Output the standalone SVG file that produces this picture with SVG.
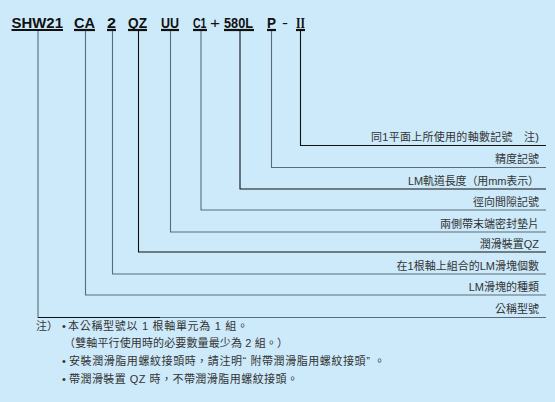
<svg xmlns="http://www.w3.org/2000/svg" width="555" height="402" viewBox="0 0 555 402">
<style>
.code{font-family:"Liberation Sans",Arial,sans-serif;font-weight:bold;font-size:15px;fill:#111}
.ul{stroke:#111;stroke-width:2.2}
.lbl{font-family:"Liberation Sans","Noto Sans CJK TC",sans-serif;font-size:11px;fill:#333;text-anchor:end}
.note{font-family:"Liberation Sans","Noto Sans CJK TC",sans-serif;font-size:11px;fill:#333}
.k{fill:none;stroke:#111;stroke-width:1.1}
.g{fill:none;stroke:#5b6b77;stroke-width:1.1}
</style>
<rect width="555" height="402" fill="#cdeafa"/>
<g id="code">
<text class="code" x="11.5" y="28" textLength="51.5" lengthAdjust="spacingAndGlyphs">SHW21</text>
<line class="ul" x1="11.5" y1="30" x2="63" y2="30"/>
<text class="code" x="74" y="28" textLength="21" lengthAdjust="spacingAndGlyphs">CA</text>
<line class="ul" x1="74" y1="30" x2="95" y2="30"/>
<text class="code" x="107" y="28" textLength="9" lengthAdjust="spacingAndGlyphs">2</text>
<line class="ul" x1="107" y1="30" x2="116" y2="30"/>
<text class="code" x="128" y="28" textLength="19" lengthAdjust="spacingAndGlyphs">QZ</text>
<line class="ul" x1="128" y1="30" x2="147" y2="30"/>
<text class="code" x="161" y="28" textLength="18" lengthAdjust="spacingAndGlyphs">UU</text>
<line class="ul" x1="161" y1="30" x2="179" y2="30"/>
<text class="code" transform="translate(193,28) scale(0.7,1)" x="0" y="0">C1</text>
<line class="ul" x1="193" y1="30" x2="207" y2="30"/>
<text class="code" x="210" y="27.5" style="font-weight:normal" textLength="10" lengthAdjust="spacingAndGlyphs">+</text>
<text class="code" x="224" y="28" textLength="29" lengthAdjust="spacingAndGlyphs">580L</text>
<line class="ul" x1="224" y1="30" x2="254" y2="30"/>
<text class="code" x="267" y="28" textLength="9" lengthAdjust="spacingAndGlyphs">P</text>
<line class="ul" x1="267" y1="30" x2="276" y2="30"/>
<text class="code" x="282" y="28" style="font-weight:normal" textLength="6" lengthAdjust="spacingAndGlyphs">-</text>
<text class="code" x="296" y="28" style="font-family:'Liberation Serif',serif" textLength="9" lengthAdjust="spacingAndGlyphs">II</text>
<line class="ul" x1="296" y1="30" x2="305" y2="30"/>
</g>
<g id="connectors">
<polyline class="k" points="300.5,31 300.5,145.5 546,145.5"/>
<polyline class="g" points="271.5,31 271.5,167.5 546,167.5"/>
<polyline class="k" points="240,31 240,189 546,189"/>
<polyline class="g" points="201,31 201,210 546,210"/>
<polyline class="g" points="170.5,31 170.5,232 546,232"/>
<polyline class="k" points="138.5,31 138.5,252 546,252"/>
<polyline class="g" points="112.5,31 112.5,274 546,274"/>
<polyline class="g" points="85.5,31 85.5,295 546,295"/>
<polyline class="g" points="38,31 38,317.5 546,317.5"/>
<line class="k" x1="38" y1="317.5" x2="160" y2="317.5"/>
</g>
<g id="labels">
<text class="lbl" x="539" y="141" textLength="168" lengthAdjust="spacing">同1平面上所使用的軸數記號　注)</text>
<text class="lbl" x="539" y="163">精度記號</text>
<text class="lbl" x="539" y="184.5" textLength="131" lengthAdjust="spacing">LM軌道長度（用mm表示）</text>
<text class="lbl" x="539" y="205.5">徑向間隙記號</text>
<text class="lbl" x="539" y="227.5">兩側帶末端密封墊片</text>
<text class="lbl" x="539" y="248">潤滑裝置QZ</text>
<text class="lbl" x="539" y="269.5">在1根軸上組合的LM滑塊個數</text>
<text class="lbl" x="539" y="290.5">LM滑塊的種類</text>
<text class="lbl" x="539" y="312.5">公稱型號</text>
</g>
<g id="notes">
<text class="note" x="36" y="330">注）</text>
<text class="note" x="62" y="330">•</text>
<text class="note" x="68" y="330" textLength="180" lengthAdjust="spacing">本公稱型號以 1 根軸單元為 1 組。</text>
<text class="note" x="64" y="347" textLength="224" lengthAdjust="spacing">（雙軸平行使用時的必要數量最少為 2 組。）</text>
<text class="note" x="62" y="365">•</text>
<text class="note" x="69" y="365" textLength="316" lengthAdjust="spacing">安裝潤滑脂用螺紋接頭時，請注明“ 附帶潤滑脂用螺紋接頭” 。</text>
<text class="note" x="62" y="383">•</text>
<text class="note" x="69" y="383" textLength="229" lengthAdjust="spacing">帶潤滑裝置 QZ 時，不帶潤滑脂用螺紋接頭。</text>
</g>
</svg>
